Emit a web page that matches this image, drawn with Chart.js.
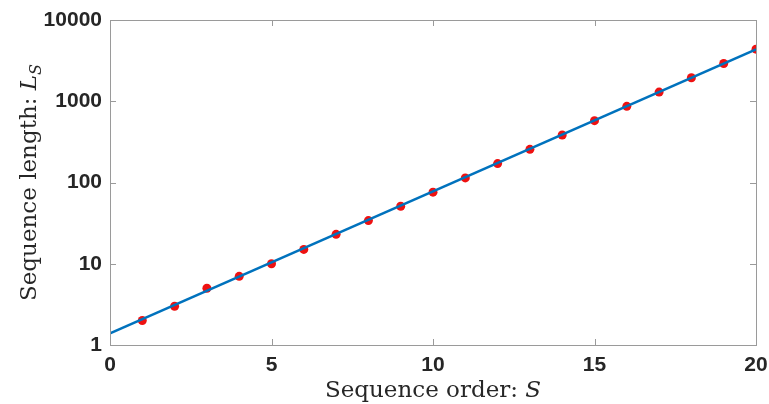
<!DOCTYPE html>
<html>
<head>
<meta charset="utf-8">
<script src="https://cdn.jsdelivr.net/npm/chart.js@4/dist/chart.umd.min.js"></script>
<style>
html,body{margin:0;padding:0;background:#fff;}
#wrap{width:769px;height:404px;}
</style>
</head>
<body>
<div id="wrap"><canvas id="c" width="769" height="404"></canvas></div>
<script>
const orders = [1,2,3,4,5,6,7,8,9,10,11,12,13,14,15,16,17,18,19,20];
const lengths = [2,3,5,7,10,15,23,34,51,76,114,171,256,384,577,865,1297,1946,2919,4378];
const fitOrders = [0,20];
const fitLengths = [1.39,4350];
const xTicks = [0,5,10,15,20];
const yTicks = [1,10,100,1000,10000];
const xTitle = 'Sequence order: ';
const xTitleVar = 'S';
const yTitle = 'Sequence length: ';
const yTitleVar = 'L';
const yTitleSub = 'S';

const AXIS_COLOR = '#9a9a9a';
const TEXT_COLOR = '#262626';

const frame = {
  id: 'frame',
  afterDatasetsDraw(chart) {
    const {ctx, chartArea: a, scales} = chart;
    ctx.save();
    ctx.strokeStyle = AXIS_COLOR;
    ctx.lineWidth = 1;
    ctx.strokeRect(Math.round(a.left)+0.5, Math.round(a.top)+0.5, Math.round(a.right-a.left), Math.round(a.bottom-a.top));
    const tl = 6;
    ctx.beginPath();
    xTicks.forEach(v => {
      const x = Math.round(scales.x.getPixelForValue(v))+0.5;
      ctx.moveTo(x, a.bottom); ctx.lineTo(x, a.bottom - tl);
      ctx.moveTo(x, a.top); ctx.lineTo(x, a.top + tl);
    });
    yTicks.forEach(v => {
      const y = Math.round(scales.y.getPixelForValue(v))+0.5;
      ctx.moveTo(a.left, y); ctx.lineTo(a.left + tl, y);
      ctx.moveTo(a.right, y); ctx.lineTo(a.right - tl, y);
    });
    ctx.stroke();
    ctx.restore();
  },
  afterDraw(chart) {
    const {ctx, chartArea: a} = chart;
    ctx.save();
    ctx.fillStyle = TEXT_COLOR;
    ctx.textBaseline = 'alphabetic';
    const f = '23px "DejaVu Serif"';
    const fi = 'italic 23px "DejaVu Serif"';
    const fs = 'italic 16px "DejaVu Serif"';
    // x title
    ctx.font = f; const w1 = ctx.measureText(xTitle).width;
    ctx.font = fi; const w2 = ctx.measureText(xTitleVar).width;
    const cx = (a.left + a.right)/2;
    let x0 = cx - (w1+w2)/2;
    const by = 397;
    ctx.font = f; ctx.textAlign = 'left'; ctx.fillText(xTitle, x0, by);
    ctx.font = fi; ctx.fillText(xTitleVar, x0 + w1, by);
    // y title
    ctx.translate(36, (a.top + a.bottom)/2);
    ctx.rotate(-Math.PI/2);
    ctx.font = f; const v1 = ctx.measureText(yTitle).width;
    ctx.font = fi; const v2 = ctx.measureText(yTitleVar).width;
    ctx.font = fs; const v3 = ctx.measureText(yTitleSub).width;
    let s0 = -(v1+v2+v3)/2;
    ctx.font = f; ctx.fillText(yTitle, s0, 0);
    ctx.font = fi; ctx.fillText(yTitleVar, s0 + v1, 0);
    ctx.font = fs; ctx.fillText(yTitleSub, s0 + v1 + v2, 5);
    ctx.restore();
  }
};

new Chart(document.getElementById('c'), {
  type: 'scatter',
  data: {
    datasets: [
      {
        type: 'line',
        data: fitOrders.map((x,i)=>({x, y: fitLengths[i]})),
        borderColor: '#0072BD',
        borderWidth: 2.5,
        pointRadius: 0,
        fill: false,
        order: 0
      },
      {
        data: orders.map((x,i)=>({x, y: lengths[i]})),
        backgroundColor: '#ee1111',
        borderColor: '#ee1111',
        pointRadius: 4.5,
        pointBorderWidth: 0,
        order: 1
      }
    ]
  },
  options: {
    responsive: false,
    animation: false,
    devicePixelRatio: 1,
    layout: { padding: { left: 0, right: 13, top: 20, bottom: 0 } },
    plugins: { legend: { display: false }, tooltip: { enabled: false } },
    scales: {
      x: {
        type: 'linear', min: 0, max: 20,
        afterBuildTicks: s => { s.ticks = xTicks.map(v => ({value: v})); },
        afterFit: s => { s.height = 59; s.paddingRight = 0; s.paddingLeft = 0; },
        grid: { display: false, drawTicks: false },
        border: { display: false },
        ticks: { padding: 8, color: TEXT_COLOR, font: { family: '"Liberation Sans", Arial', size: 21, weight: 'bold' }, maxRotation: 0, autoSkip: false }
      },
      y: {
        type: 'logarithmic', min: 1, max: 10000,
        afterBuildTicks: s => { s.ticks = yTicks.map(v => ({value: v})); },
        afterFit: s => { s.width = 110; s.paddingTop = 0; s.paddingBottom = 0; },
        grid: { display: false, drawTicks: false },
        border: { display: false },
        ticks: { padding: 8, color: TEXT_COLOR, font: { family: '"Liberation Sans", Arial', size: 21, weight: 'bold' }, callback: v => String(v), autoSkip: false }
      }
    }
  },
  plugins: [frame]
});
</script>
</body>
</html>
